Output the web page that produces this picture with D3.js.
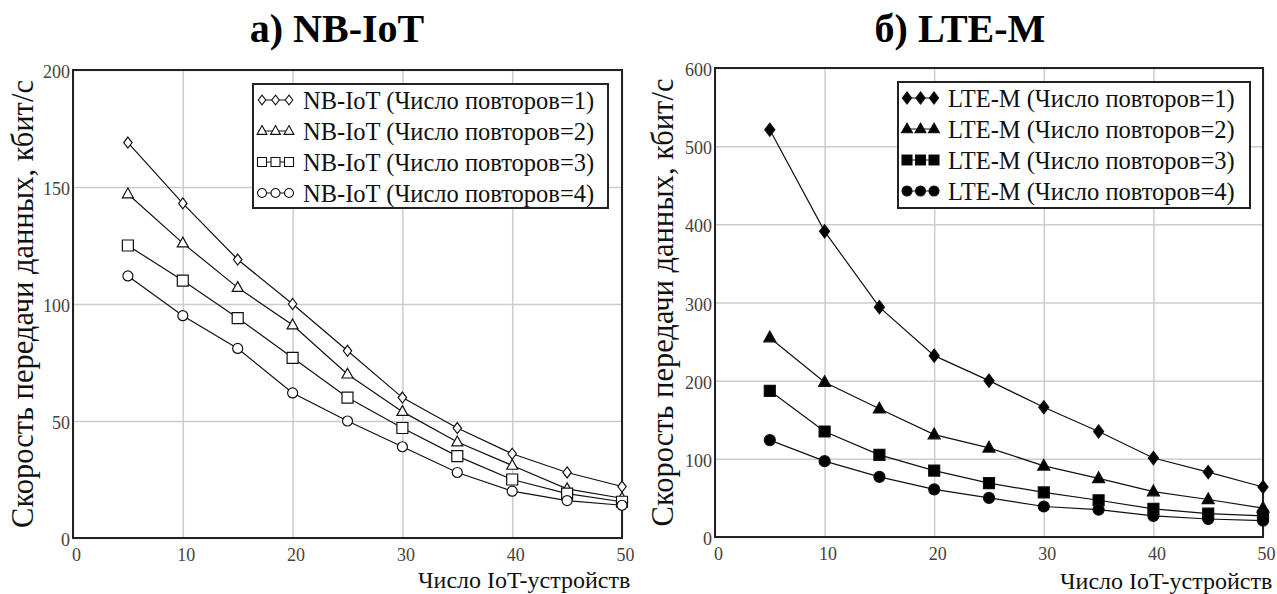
<!DOCTYPE html>
<html>
<head>
<meta charset="utf-8">
<script src="https://cdn.jsdelivr.net/npm/d3@7"></script>
<style>
  body { margin: 0; background: #fff; }
  svg, svg text { font-family: "Liberation Serif", "Tinos", "Times New Roman", "DejaVu Serif", serif !important; }
</style>
</head>
<body>
<div id="chart"></div>
<script>
// x values: number of IoT devices
const devices = [5, 10, 15, 20, 25, 30, 35, 40, 45, 50];

// NB-IoT, kbit/s, by number of repetitions
const nbRep1 = [169, 143, 119, 100, 80, 60, 47, 36, 28, 22];
const nbRep2 = [147, 126, 107, 91, 70, 54, 41, 31, 21, 17];
const nbRep3 = [125, 110, 94, 77, 60, 47, 35, 25, 19, 15.5];
const nbRep4 = [112, 95, 81, 62, 50, 39, 28, 20, 16, 14];

// LTE-M, kbit/s
const lteRep1 = [521, 391, 294, 232, 200, 166, 135, 101, 83, 64];
const lteRep2 = [255, 198, 164, 131, 114, 91, 75, 58, 48, 37];
const lteRep3 = [187, 135, 105, 85, 69, 57, 47, 36, 30, 27];
const lteRep4 = [124, 97, 77, 61, 50, 39, 35, 27, 23, 21];

const xTicks = [0, 10, 20, 30, 40, 50];
const nbYTicks = [0, 50, 100, 150, 200];
const lteYTicks = [0, 100, 200, 300, 400, 500, 600];

const nbNames = ["NB-IoT (Число повторов=1)", "NB-IoT (Число повторов=2)",
                 "NB-IoT (Число повторов=3)", "NB-IoT (Число повторов=4)"];
const lteNames = ["LTE-M (Число повторов=1)", "LTE-M (Число повторов=2)",
                  "LTE-M (Число повторов=3)", "LTE-M (Число повторов=4)"];
const markerTypes = ["diamond", "triangle", "square", "circle"];

const yLabel = "Скорость передачи данных, кбит/с";
const xLabel = "Число IoT-устройств";

const W = 1277, H = 594;
const svg = d3.select("#chart").append("svg")
    .attr("width", W)
    .attr("height", H);

// marker shape path centred on 0,0
function markerPath(type, s) {
    if (type === "diamond") return `M0,${-s * 0.55}L${s * 0.42},0L0,${s * 0.55}L${-s * 0.42},0Z`;
    if (type === "triangle") return `M0,${-s * 0.6}L${s * 0.55},${s * 0.38}L${-s * 0.55},${s * 0.38}Z`;
    if (type === "square") return `M${-s / 2},${-s / 2}h${s}v${s}h${-s}Z`;
    const r = s / 2;
    return `M${r},0A${r},${r} 0 1,1 ${-r},0A${r},${r} 0 1,1 ${r},0Z`;
}

function drawPanel(cfg) {
    const x = d3.scaleLinear().domain([0, 50]).range([cfg.left, cfg.right]);
    const y = d3.scaleLinear().domain([0, cfg.yMax]).range([cfg.bottom, cfg.top]);
    const g = svg.append("g");

    // grid
    g.append("g")
        .attr("transform", `translate(0,${cfg.bottom})`)
        .call(d3.axisBottom(x).tickValues(xTicks).tickSize(-(cfg.bottom - cfg.top)).tickFormat(""))
        .call(a => a.select(".domain").remove())
        .selectAll("line").attr("stroke", "#cccccc").attr("stroke-width", 1.5);
    g.append("g")
        .attr("transform", `translate(${cfg.left},0)`)
        .call(d3.axisLeft(y).tickValues(cfg.yTicks).tickSize(-(cfg.right - cfg.left)).tickFormat(""))
        .call(a => a.select(".domain").remove())
        .selectAll("line").attr("stroke", "#cccccc").attr("stroke-width", 1.5);

    // tick labels
    g.append("g")
        .attr("transform", `translate(0,${cfg.bottom})`)
        .call(d3.axisBottom(x).tickValues(xTicks).tickSize(0).tickPadding(10))
        .call(a => a.select(".domain").remove())
        .selectAll("text")
        .attr("dx", 3)
        .attr("font-size", 18)
        .attr("fill", "#4a4038");
    g.append("g")
        .attr("transform", `translate(${cfg.left},0)`)
        .call(d3.axisLeft(y).tickValues(cfg.yTicks).tickSize(0).tickPadding(3))
        .call(a => a.select(".domain").remove())
        .selectAll("text")
        .attr("dy", "0.42em")
        .attr("font-size", 18)
        .attr("fill", "#4a4038");

    // frame
    g.append("rect")
        .attr("x", cfg.left).attr("y", cfg.top)
        .attr("width", cfg.right - cfg.left).attr("height", cfg.bottom - cfg.top)
        .attr("fill", "none").attr("stroke", "#222").attr("stroke-width", 2);

    // series
    const line = d3.line().x((d, i) => x(devices[i])).y(d => y(d));
    cfg.series.forEach((vals, k) => {
        g.append("path")
            .datum(vals)
            .attr("d", line)
            .attr("fill", "none")
            .attr("stroke", "#111")
            .attr("stroke-width", 1.2);
        g.selectAll(null)
            .data(vals)
            .enter()
            .append("path")
            .attr("transform", (d, i) => `translate(${x(devices[i])},${y(d)})`)
            .attr("d", markerPath(markerTypes[k], cfg.markerSize[k]))
            .attr("fill", cfg.filled ? "#000" : "#fff")
            .attr("stroke", "#111")
            .attr("stroke-width", 1.2);
    });

    // legend
    const lg = g.append("g");
    lg.append("rect")
        .attr("x", cfg.legend.x).attr("y", cfg.legend.y)
        .attr("width", cfg.legend.w).attr("height", cfg.legend.h)
        .attr("fill", "#fff").attr("stroke", "#222").attr("stroke-width", 2);
    cfg.names.forEach((name, k) => {
        const cy = cfg.legend.y + 16 + k * 31;
        const x0 = cfg.legend.x + 5;
        lg.append("line")
            .attr("x1", x0).attr("x2", x0 + 34)
            .attr("y1", cy).attr("y2", cy)
            .attr("stroke", "#111").attr("stroke-width", 1.2);
        [0, 1, 2].forEach(j => {
            lg.append("path")
                .attr("transform", `translate(${x0 + 4 + j * 13.5},${cy})`)
                .attr("d", markerPath(markerTypes[k], cfg.legendMarker[k]))
                .attr("fill", cfg.filled ? "#000" : "#fff")
                .attr("stroke", "#111")
                .attr("stroke-width", 1.1);
        });
        lg.append("text")
            .attr("x", x0 + 45)
            .attr("y", cy)
            .attr("dy", "0.35em")
            .attr("font-size", 24.5)
            .attr("fill", "#111")
            .text(name);
    });

    // titles
    svg.append("text")
        .attr("x", cfg.titleX).attr("y", 42)
        .attr("text-anchor", "middle")
        .attr("font-size", 40)
        .attr("font-weight", "bold")
        .attr("fill", "#000")
        .text(cfg.title);

    svg.append("text")
        .attr("transform", `translate(${cfg.yLabelX},${(cfg.top + cfg.bottom) / 2}) rotate(-90)`)
        .attr("text-anchor", "middle")
        .attr("font-size", 30.5)
        .attr("fill", "#111")
        .text(yLabel);

    svg.append("text")
        .attr("x", cfg.xLabelX).attr("y", cfg.xLabelY)
        .attr("font-size", 24)
        .attr("fill", "#111")
        .text(xLabel);
}

drawPanel({
    left: 73, right: 622, top: 70, bottom: 538,
    yMax: 200, yTicks: nbYTicks,
    series: [nbRep1, nbRep2, nbRep3, nbRep4],
    names: nbNames, filled: false,
    markerSize: [10, 10, 11, 10],
    legendMarker: [9, 9, 9, 9],
    legend: { x: 253, y: 84, w: 355, h: 124 },
    title: "а) NB-IoT", titleX: 337,
    yLabelX: 33, xLabelX: 418, xLabelY: 588
});

drawPanel({
    left: 715, right: 1263, top: 68, bottom: 537,
    yMax: 600, yTicks: lteYTicks,
    series: [lteRep1, lteRep2, lteRep3, lteRep4],
    names: lteNames, filled: true,
    markerSize: [12, 11, 11, 11],
    legendMarker: [11, 10, 10, 10],
    legend: { x: 898, y: 82, w: 352, h: 126 },
    title: "б) LTE-M", titleX: 960,
    yLabelX: 673, xLabelX: 1060, xLabelY: 589
});
</script>
</body>
</html>
